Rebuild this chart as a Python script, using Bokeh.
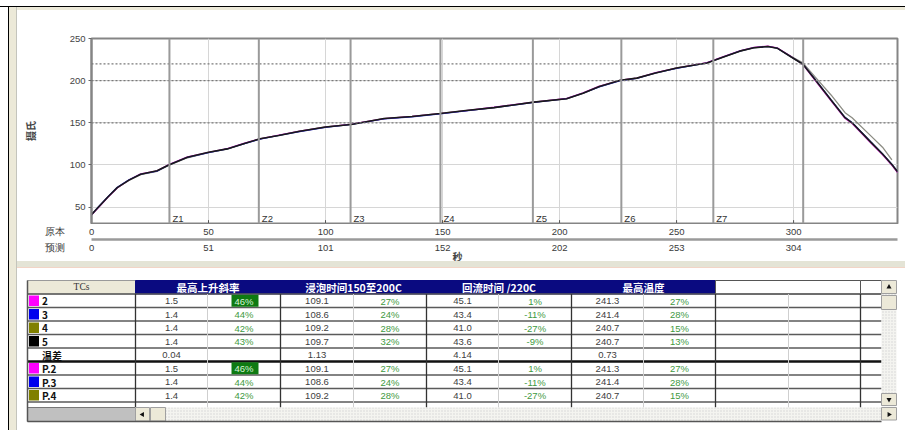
import math
from bokeh.plotting import figure
from bokeh.models import Range1d, LinearAxis, FixedTicker, Div, Span
from bokeh.layouts import row, column
from bokeh.embed import file_html
from bokeh.resources import INLINE
from bokeh.core.properties import value

NAN = float("nan")

# ---------------- chart data ----------------
time_s = [0, 3, 7, 11, 16, 21, 28, 33, 41, 50, 58, 65, 72, 80, 89, 100, 111, 125, 137, 149,
          160, 172, 189, 203, 210, 217, 226, 233, 241, 250, 263, 270, 277, 283, 289, 293, 299, 304, 309, 316,
          322, 325, 333, 338, 342, 344.4]
tc5 = [41, 50, 62, 73, 82, 89, 93, 100, 109, 115, 119, 125, 131, 135, 140, 145, 148, 155, 157.5, 161,
       164.5, 168, 174.5, 178.5, 185, 193, 200.5, 203, 209, 215, 221, 228, 235, 239, 240.5, 238.5, 228, 219.5, 202, 177,
       156, 150, 127, 113, 100.5, 92]
tc2 = [40.5, 49.5, 61.5, 72.5, 82, 89.5, 93, 100.5, 109.5, 115, 119.5, 125.5, 131, 135.5, 140, 145, 148.5, 155, 157.5, 161,
       164.5, 168.5, 174.5, 179, 185.5, 193.5, 200.5, 203, 209.5, 215, 221.5, 228.5, 235.5, 239.5, 241, 239, 228.5, 219, 201, 176,
       155, 149, 126, 112, 99.5, 91]
tc3 = [41, 50.5, 62.5, 73.5, 82.5, 89, 92.5, 100, 109, 114.5, 119, 125, 130.5, 135, 139.5, 144.5, 148, 154.5, 157, 160.5,
       164, 168, 174, 178.5, 185, 192.5, 200, 202.5, 209, 214.5, 221, 228, 235, 239, 240.5, 238.5, 228, 219.5, 202.5, 177.5,
       156.5, 150.5, 127.5, 113.5, 101, 92.5]
tc4 = [41.5, 50, 62, 73, 81.5, 88.5, 92.5, 99.5, 108.5, 114.5, 119, 125, 131, 135, 140, 145, 148, 155, 157.5, 161,
       164.5, 168, 174.5, 178.5, 185, 193, 200.5, 203, 209, 215, 221, 228, 235, 239, 240.5, 238.5, 228.5, 221, 205, 183,
       162, 156, 134.5, 121, 106, NAN]

y_ticks = [50, 100, 150, 200, 250]
x_ticks = [0, 50, 100, 150, 200, 250, 300]
x_labels_orig = ["0", "50", "100", "150", "200", "250", "300"]
x_labels_pred = ["0", "51", "101", "152", "202", "253", "304"]
row_label_orig = "原本"
row_label_pred = "预测"
ref_levels = [150, 200, 220]
zone_edges = [33.3, 71.5, 110.7, 149.1, 188.6, 226.4, 265.7, 304.1]
zone_names = ["Z1", "Z2", "Z3", "Z4", "Z5", "Z6", "Z7", ""]

# ---------------- table data ----------------
tc_names = ["2", "3", "4", "5", "温差", "P.2", "P.3", "P.4"]
tc_colors = ["#ff00ff", "#0000ee", "#808000", "#000000", None, "#ff00ff", "#0000ee", "#808000"]
group_titles = ["最高上升斜率", "浸泡时间150至200C", "回流时间 /220C", "最高温度"]
slope = ["1.5", "1.4", "1.4", "1.4", "0.04", "1.5", "1.4", "1.4"]
slope_pct = ["46%", "44%", "42%", "43%", "", "46%", "44%", "42%"]
slope_hi = [True, False, False, False, False, True, False, False]
soak = ["109.1", "108.6", "109.2", "109.7", "1.13", "109.1", "108.6", "109.2"]
soak_pct = ["27%", "24%", "28%", "32%", "", "27%", "24%", "28%"]
reflow = ["45.1", "43.4", "41.0", "43.6", "4.14", "45.1", "43.4", "41.0"]
reflow_pct = ["1%", "-11%", "-27%", "-9%", "", "1%", "-11%", "-27%"]
peak = ["241.3", "241.4", "240.7", "240.7", "0.73", "241.3", "241.4", "240.7"]
peak_pct = ["27%", "28%", "15%", "13%", "", "27%", "28%", "15%"]

NUM_FONT = value("Liberation Sans")
CJK_FONT = value("Noto Sans CJK SC")

X_END = 344.4
PX_PER_S = 805 / X_END          # frame width / time span
LEFT_PAD_S = 74 / PX_PER_S      # time span covered by the left border of the chart
LABEL_X = -15.8                 # where the row captions sit (left of the frame)

# ---------------- chart figure ----------------
p = figure(width=888, height=214, x_range=Range1d(0, X_END), y_range=Range1d(30.5, 250),
           output_backend="svg", toolbar_location=None, margin=0,
           min_border_left=74, min_border_right=8, min_border_top=28, min_border_bottom=1)
p.background_fill_color = "white"
p.border_fill_color = "white"
p.outline_line_color = "#858585"
p.outline_line_width = 2
p.xaxis.visible = False

ya = p.yaxis[0]
ya.ticker = FixedTicker(ticks=y_ticks)
ya.major_tick_in = 0
ya.major_tick_out = 3
ya.minor_tick_line_color = None
ya.axis_line_color = "#858585"
ya.axis_line_width = 2
ya.major_tick_line_color = "#666666"
ya.major_label_standoff = 3
ya.major_label_text_font = "Liberation Sans"
ya.major_label_text_font_size = "9.5px"
ya.major_label_text_color = "#444444"
ya.axis_label = "摄氏"
ya.axis_label_text_font = "Noto Sans CJK SC"
ya.axis_label_text_font_style = "bold"
ya.axis_label_text_font_size = "10px"
ya.axis_label_standoff = 29

p.xgrid.ticker = FixedTicker(ticks=x_ticks)
p.ygrid.ticker = FixedTicker(ticks=y_ticks)
p.xgrid.grid_line_color = "#d6d6d6"
p.ygrid.grid_line_color = "#d6d6d6"

for lv in ref_levels:
    p.add_layout(Span(location=lv, dimension="width", line_color="#7a7a7a",
                      line_width=1.3, line_dash="2 2"))
for z in zone_edges:
    p.add_layout(Span(location=z, dimension="height", line_color="#9a9a9a", line_width=2))

y0 = p.y_range.start
p.segment(x0=x_ticks, x1=x_ticks, y0=[y0] * len(x_ticks), y1=[y0 + 4] * len(x_ticks),
          line_color="#555555", line_width=1)

p.text(x=zone_edges, y=[y0] * len(zone_edges), text=zone_names,
       x_offset=3, y_offset=-5, text_align="left", text_baseline="middle",
       text_font=NUM_FONT, text_font_size="9.5px", text_color="#333333")

p.line(time_s, tc4, line_color="#8c8c84", line_width=1.3)
p.line(time_s, tc2, line_color="#d020d0", line_width=1.2)
p.line(time_s, tc3, line_color="#3030d0", line_width=1.1)
p.line(time_s, tc5, line_color="#1a1a1a", line_width=1.6)

# ---------------- time axes (same time scale, frame widened to the left) ----------------
ax = figure(width=888, height=37, x_range=Range1d(-LEFT_PAD_S, X_END), y_range=Range1d(0, 1),
            output_backend="svg", toolbar_location=None, margin=0,
            min_border_left=0, min_border_right=8, min_border_top=0, min_border_bottom=36)
ax.background_fill_color = "white"
ax.border_fill_color = "white"
ax.outline_line_color = None
ax.grid.visible = False
ax.yaxis.visible = False


def style_tick_axis(a, standoff):
    a.major_tick_in = 0
    a.major_tick_out = 0
    a.major_tick_line_color = None
    a.minor_tick_line_color = None
    a.axis_line_color = None
    a.major_label_standoff = standoff
    a.major_label_text_font = "Liberation Sans"
    a.major_label_text_font_size = "9.5px"
    a.major_label_text_color = "#3a3a3a"


xa = ax.xaxis[0]
xa.ticker = FixedTicker(ticks=[LABEL_X] + x_ticks)
xa.major_label_overrides = dict(zip([LABEL_X] + x_ticks, [row_label_orig] + x_labels_orig))
style_tick_axis(xa, 1)

xs = LinearAxis(ticker=FixedTicker(ticks=[]), bounds=(0, X_END))
xs.major_tick_in = 0
xs.major_tick_out = 0
xs.minor_tick_line_color = None
xs.major_label_standoff = 0
xs.axis_line_color = "#9a9a9a"
xs.axis_line_width = 2.5
ax.add_layout(xs, "below")

xb = LinearAxis(ticker=FixedTicker(ticks=[LABEL_X] + x_ticks),
                major_label_overrides=dict(zip([LABEL_X] + x_ticks, [row_label_pred] + x_labels_pred)))
style_tick_axis(xb, 2)
ax.add_layout(xb, "below")

xt = LinearAxis(ticker=FixedTicker(ticks=[]), bounds=(0, X_END))
xt.major_tick_in = 0
xt.major_tick_out = 0
xt.minor_tick_in = 0
xt.minor_tick_out = 0
xt.minor_tick_line_color = None
xt.major_label_standoff = 0
xt.axis_line_color = None
xt.axis_label = "秒"
xt.axis_label_text_font = "Noto Sans CJK SC"
xt.axis_label_text_font_style = "bold"
xt.axis_label_text_font_size = "10px"
xt.axis_label_standoff = -7
ax.add_layout(xt, "below")

# ---------------- table figure ----------------
t = figure(width=888, height=162, x_range=Range1d(17, 905), y_range=Range1d(430, 268),
           output_backend="svg", toolbar_location=None, margin=0, min_border=0,
           x_axis_type=None, y_axis_type=None)
t.background_fill_color = "white"
t.border_fill_color = "white"
t.outline_line_color = None
t.grid.visible = False

col_edges = [27, 135, 207, 280, 353, 426, 498, 571, 643, 715, 788, 860, 881]
HEAD_TOP = 280
ROW_H = 13.5
n_rows = len(tc_names)
row_tops = [HEAD_TOP + ROW_H * (i + 1) for i in range(n_rows)]
row_mid = [rt + ROW_H / 2 for rt in row_tops]
HS_TOP, HS_BOT = 407, 421
RIGHT = col_edges[-1]

t.quad(left=[27], right=[135], top=[HEAD_TOP], bottom=[HEAD_TOP + ROW_H],
       fill_color="#ece9d8", line_color="#9a9a9a", line_width=1)
t.quad(left=[135], right=[715], top=[HEAD_TOP], bottom=[HEAD_TOP + ROW_H],
       fill_color="#0a0a80", line_color="#0a0a80")
t.quad(left=[715, 860], right=[860, RIGHT], top=[HEAD_TOP] * 2, bottom=[HEAD_TOP + ROW_H] * 2,
       fill_color="white", line_color="#555555", line_width=1)
t.text(x=[81], y=[HEAD_TOP + ROW_H / 2], text=["TCs"], text_align="center", text_baseline="middle",
       text_font=value("Liberation Serif"), text_font_size="9.5px", text_color="#333333")
grp_x = [(col_edges[1 + 2 * i] + col_edges[3 + 2 * i]) / 2 for i in range(len(group_titles))]
t.text(x=grp_x, y=[HEAD_TOP + ROW_H / 2 + 0.5] * len(grp_x), text=group_titles,
       text_align="center", text_baseline="middle", text_font=CJK_FONT,
       text_font_style="bold", text_font_size="10.5px", text_color="white")

line_ys = [HEAD_TOP + ROW_H * (i + 1) for i in range(n_rows + 1)]
thin_ys = [y for i, y in enumerate(line_ys) if i != 5]
t.segment(x0=[27] * len(thin_ys), x1=[RIGHT] * len(thin_ys), y0=thin_ys, y1=thin_ys,
          line_color="#5a5a5a", line_width=1.5)
t.segment(x0=[27], x1=[RIGHT], y0=[line_ys[5]], y1=[line_ys[5]], line_color="#111111", line_width=2.5)

thick_x = [col_edges[i] for i in (1, 3, 5, 7, 9, 11)]
light_x = [col_edges[i] for i in (2, 4, 6, 8, 10)]
t.segment(x0=light_x, x1=light_x, y0=[HEAD_TOP + ROW_H] * len(light_x), y1=[HS_TOP] * len(light_x),
          line_color="#cfcfcf", line_width=1)
t.segment(x0=thick_x, x1=thick_x, y0=[HEAD_TOP + ROW_H] * len(thick_x), y1=[HS_TOP] * len(thick_x),
          line_color="#333333", line_width=1.3)

sw_y = [row_mid[i] for i in range(n_rows) if tc_colors[i]]
sw_c = [c for c in tc_colors if c]
t.rect(x=[33.5] * len(sw_y), y=sw_y, width=10, height=10.5, fill_color=sw_c, line_color=None)
t.text(x=[41.5] * n_rows, y=[m + 0.5 for m in row_mid], text=tc_names, text_align="left",
       text_baseline="middle", text_font=CJK_FONT, text_font_style="bold",
       text_font_size="10px", text_color="#111111")

hi_cx = (col_edges[2] + col_edges[3]) / 2
hi_y = [row_mid[i] for i in range(n_rows) if slope_hi[i]]
t.rect(x=[hi_cx + 1] * len(hi_y), y=hi_y, width=27, height=12, fill_color="#0e7a12", line_color=None)

value_cols = [slope, slope_pct, soak, soak_pct, reflow, reflow_pct, peak, peak_pct]
for ci, col in enumerate(value_cols):
    cx = (col_edges[ci + 1] + col_edges[ci + 2]) / 2
    is_pct = ci % 2 == 1
    colors = []
    for ri in range(n_rows):
        if ci == 1 and slope_hi[ri]:
            colors.append("#d8f5d8")
        elif is_pct:
            colors.append("#3f9a3f")
        else:
            colors.append("#404040")
    t.text(x=[cx] * n_rows, y=[m + 0.5 for m in row_mid], text=col, text_align="center",
           text_baseline="middle", text_font=NUM_FONT, text_font_size="9.5px", text_color=colors)

t.quad(left=[27], right=[135], top=[HS_TOP], bottom=[HS_BOT], fill_color="#c0c0c0", line_color="#777777")
t.quad(left=[135], right=[RIGHT], top=[HS_TOP], bottom=[HS_BOT - 0.5], fill_color="#f4f4f0",
       hatch_pattern="dot", hatch_color="#d4d4d4", hatch_scale=3, line_color=None)
t.quad(left=[135, 150], right=[149, 165], top=[HS_TOP] * 2, bottom=[HS_BOT - 0.5] * 2,
       fill_color="#ece9d8", line_color="#a0a0a0")
t.quad(left=[RIGHT], right=[896], top=[HS_TOP], bottom=[HS_BOT - 1.5], fill_color="#ece9d8", line_color="#a0a0a0")
t.segment(x0=[27], x1=[RIGHT], y0=[HS_BOT], y1=[HS_BOT], line_color="#555555", line_width=1.5)
t.segment(x0=[27], x1=[27], y0=[HEAD_TOP], y1=[HS_BOT], line_color="#555555", line_width=1.5)

t.quad(left=[RIGHT], right=[896], top=[HEAD_TOP], bottom=[HS_TOP - 1], fill_color="#f4f4f0",
       hatch_pattern="dot", hatch_color="#d4d4d4", hatch_scale=3, line_color=None)
t.quad(left=[RIGHT, RIGHT, RIGHT], right=[896, 896, 896], top=[HEAD_TOP, 295, 393],
       bottom=[293, 309, 405], fill_color="#ece9d8", line_color="#a0a0a0")

t.scatter(x=[142, 888.5, 888.5, 888.5], y=[414, 414, 286.5, 399],
          marker="triangle", size=5,
          angle=[math.pi / 2, -math.pi / 2, 0, math.pi], fill_color="#111111", line_color=None)

# ---------------- window frame pieces ----------------
SIDE_BG = ("linear-gradient(to right, #fff 0px, #fff 8px, #000 8px, #000 9px, #ece9d8 9px, "
           "#ece9d8 16px, #c4c4bc 16px, #c4c4bc 17px)")
left_a = Div(text="", width=17, height=224, margin=0, styles={
    "background": "linear-gradient(to bottom, #fff 0px, #fff 6px, #000 6px, #000 7px, transparent 7px), " + SIDE_BG})
left_b = Div(text="", width=17, height=44, margin=0, styles={"background": SIDE_BG})
left_c = Div(text="", width=17, height=162, margin=0, styles={"background": SIDE_BG})
top_strip = Div(text="", width=888, height=10, margin=0, styles={
    "background": "linear-gradient(to bottom, #fff 0px, #fff 6px, #000 6px, #000 7px, #ece9d8 7px, #ece9d8 10px)"})
band = Div(text="", width=888, height=7, margin=0, styles={
    "background": "linear-gradient(to bottom, #e4e4d6 0px, #e4e4d6 6px, #f2d4c6 6px, #f2d4c6 7px)"})

root1 = row(left_a, column(top_strip, p, spacing=0), spacing=0)
root2 = row(left_b, column(ax, band, spacing=0), spacing=0)
root3 = row(left_c, t, spacing=0)

open("out.html", "w").write(file_html([root1, root2, root3], INLINE))
